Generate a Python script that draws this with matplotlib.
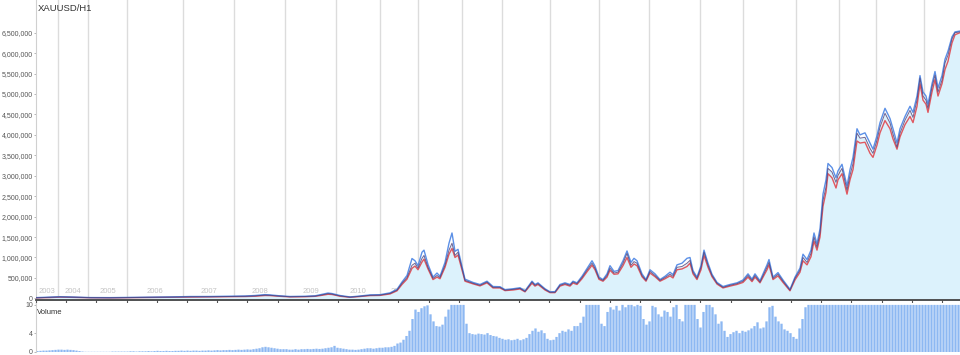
import matplotlib
matplotlib.use("Agg")
import matplotlib.pyplot as plt
import numpy as np

# year boundaries, in bar index (H1 bars, scaled)
years = ["2003", "2004", "2005", "2006", "2007", "2008", "2009", "2010", "2011", "2012",
         "2013", "2014", "2015", "2016", "2017", "2018", "2019", "2020", "2021", "2022", "2023"]
year_start = [0, 22, 52, 91, 147, 198, 249, 300, 344, 382, 426,
              466, 514, 563, 613, 664, 707, 760, 803, 840, 888]
last_bar = 924

bar_idx = [0, 14, 24, 34, 54, 74, 94, 114, 134, 154, 174, 194, 209, 219, 229, 234, 244, 254, 269, 279,
           286, 292, 296, 304, 314, 324, 334, 344, 354, 361, 366, 371, 376, 379, 382, 386, 388, 392, 397, 401,
           404, 409, 413, 416, 419, 422, 426, 429, 437, 444, 451, 457, 464, 469, 477, 484, 489, 496, 499, 502,
           509, 514, 519, 524, 529, 534, 537, 541, 546, 551, 556, 559, 563, 567, 571, 574, 578, 582, 587, 591,
           595, 598, 601, 606, 610, 614, 619, 624, 629, 634, 637, 641, 646, 651, 654, 657, 661, 665, 668, 672,
           676, 681, 687, 694, 701, 707, 712, 716, 719, 724, 731, 733, 737, 742, 747, 754, 759, 764, 767, 771,
           775, 778, 781, 784, 787, 790, 792, 796, 800, 802, 806, 811, 814, 817, 821, 824, 829, 834, 837, 841,
           844, 849, 854, 857, 861, 864, 869, 874, 877, 881, 884, 887, 890, 892, 896, 899, 902, 906, 909, 912,
           916, 919, 924]

# price in thousands
close_k = [15, 25, 35, 30, 18, 15, 20, 25, 30, 38, 40, 45, 50, 60, 80, 75, 55, 40, 45, 55,
           85, 115, 105, 60, 30, 50, 75, 80, 120, 200, 370, 510, 810, 860, 740, 980, 1050, 760, 490, 560,
           510, 810, 1180, 1350, 1050, 1130, 735, 440, 370, 320, 400, 270, 270, 200, 220, 245, 170, 400, 320, 360,
           220, 150, 150, 320, 360, 320, 400, 360, 510, 690, 860, 740, 490, 440, 560, 740, 620, 640, 860, 1100,
           810, 900, 860, 560, 440, 660, 560, 440, 510, 590, 540, 760, 780, 860, 930, 640, 490, 760, 1130, 810,
           560, 370, 270, 320, 360, 420, 560, 440, 560, 400, 760, 880, 490, 590, 420, 200, 490, 690, 1000, 880,
           1100, 1500, 1250, 1600, 2400, 2720, 3180, 3090, 2840, 3010, 3180, 2650, 3010, 3300, 4040, 3920, 3940, 3670, 3550, 3870,
           4190, 4530, 4290, 4020, 3700, 4040, 4360, 4600, 4430, 4850, 5390, 4950, 4850, 4650, 5170, 5460, 5050, 5340, 5760, 5950,
           6350, 6500, 6520]

high_k = [18, 30, 40, 35, 20, 18, 23, 30, 35, 45, 46, 52, 58, 70, 92, 85, 62, 46, 52, 62,
          100, 130, 118, 70, 35, 58, 85, 90, 135, 220, 400, 560, 975, 920, 800, 1130, 1180, 830, 520, 620,
          540, 880, 1350, 1600, 1150, 1200, 780, 470, 390, 340, 420, 290, 285, 215, 235, 260, 185, 420, 340, 380,
          235, 160, 165, 340, 380, 340, 420, 380, 540, 730, 920, 790, 520, 460, 600, 800, 660, 680, 920, 1160,
          880, 980, 920, 600, 460, 700, 600, 460, 540, 640, 580, 820, 860, 980, 1000, 680, 520, 800, 1180, 860,
          590, 390, 290, 340, 380, 450, 600, 470, 600, 430, 820, 950, 520, 630, 450, 220, 520, 740, 1080, 950,
          1180, 1600, 1330, 1700, 2550, 2900, 3300, 3200, 2950, 3120, 3280, 2750, 3150, 3450, 4150, 4000, 4050, 3800, 3650, 3980,
          4300, 4650, 4400, 4150, 3800, 4150, 4450, 4700, 4550, 4950, 5450, 5050, 4950, 4750, 5250, 5550, 5150, 5450, 5850, 6050,
          6400, 6520, 6540]

low_k = [12, 20, 30, 26, 15, 12, 17, 22, 26, 33, 35, 40, 45, 52, 70, 68, 50, 36, 40, 50,
         75, 100, 95, 52, 26, 45, 68, 72, 108, 185, 340, 470, 735, 790, 700, 890, 960, 720, 460, 520,
         480, 760, 1080, 1220, 1000, 1060, 700, 420, 355, 305, 380, 255, 255, 190, 205, 230, 160, 370, 300, 340,
         205, 140, 140, 300, 340, 300, 375, 340, 480, 650, 810, 700, 465, 420, 520, 690, 590, 600, 800, 1000,
         760, 840, 800, 530, 420, 620, 530, 420, 480, 550, 500, 700, 720, 780, 860, 600, 460, 700, 1050, 760,
         530, 350, 255, 300, 340, 390, 520, 410, 520, 380, 700, 820, 460, 550, 390, 185, 450, 640, 920, 820,
         1020, 1400, 1180, 1500, 2250, 2600, 3050, 2950, 2700, 2900, 3050, 2550, 2900, 3150, 3850, 3800, 3820, 3550, 3450, 3750,
         4050, 4350, 4150, 3900, 3650, 3950, 4250, 4450, 4300, 4700, 5250, 4850, 4750, 4550, 5050, 5350, 4950, 5250, 5600, 5800,
         6250, 6450, 6500]

# volume per bar group (capped at 10 in the chart)
volume = [0.2, 0.25, 0.3, 0.3, 0.35, 0.4, 0.45, 0.5, 0.5, 0.45, 0.5, 0.45, 0.4, 0.3, 0.2,
          0.1, 0.05, 0.05, 0.05, 0.05, 0.05, 0.05, 0.05, 0.05, 0.05, 0.1, 0.1, 0.1, 0.1, 0.1, 0.1, 0.15, 0.15, 0.1, 0.15,
          0.15, 0.15, 0.2, 0.15, 0.2, 0.25, 0.2, 0.2, 0.25, 0.2, 0.2, 0.25, 0.25, 0.3, 0.25, 0.3, 0.25, 0.3, 0.3, 0.25,
          0.3, 0.3, 0.35, 0.3, 0.35, 0.4, 0.35, 0.4, 0.4, 0.45, 0.4, 0.45, 0.5, 0.45, 0.5, 0.55, 0.5, 0.6, 0.7, 0.8,
          1.0, 1.1, 1.0, 0.9, 0.8, 0.7, 0.6, 0.6, 0.6, 0.5,
          0.5, 0.6, 0.5, 0.6, 0.6, 0.65, 0.6, 0.65, 0.7, 0.65, 0.7, 0.8, 0.9, 1.0, 1.3,
          0.9, 0.8, 0.7, 0.6, 0.5, 0.5, 0.45, 0.5, 0.6, 0.7, 0.8, 0.8, 0.7, 0.8, 0.9, 0.9, 1.0, 1.0, 1.1, 1.3,
          1.8, 2.0, 2.6, 3.4, 4.5, 7.0, 9.0, 8.5, 9.3, 9.7,
          9.9, 8.0, 6.5, 5.5, 5.4, 5.8, 7.5, 9.0, 10, 10,
          10, 10, 10, 6.0, 4.0, 3.8, 3.7, 3.9, 3.8, 3.7,
          4.0, 3.6, 3.4, 3.3, 3.0, 2.8, 2.6, 2.7, 2.5, 2.6,
          2.8, 2.5, 2.7, 3.0, 3.8, 4.5, 5.0, 4.3, 4.6, 4.0,
          2.8, 2.5, 2.6, 3.2, 4.0, 4.5, 4.3, 4.8, 4.5, 5.5,
          5.5, 6.2, 7.5, 10, 10, 10, 10, 10, 6.0, 5.5,
          8.5, 9.5, 9.0, 9.8, 8.8, 10, 9.5, 10, 10, 9.7,
          10, 9.8, 7.0, 5.8, 6.5, 9.8, 9.5, 8.0, 7.5, 8.8,
          8.5, 7.5, 9.5, 10, 7.0, 6.5, 10, 10, 10, 10,
          7.0, 5.2, 8.5, 10, 10, 9.5, 8.0, 6.0, 6.5, 4.5,
          3.2, 3.8, 4.2, 4.5, 4.0, 4.5, 4.3, 4.6, 5.0, 5.5,
          6.3, 5.0, 5.2, 6.5, 9.5, 9.8, 7.5, 6.5, 6.0, 4.8,
          4.5, 4.0, 3.2, 2.8, 5.0, 7.0, 9.5, 10, 10, 10,
          10, 10, 10, 10, 10, 10, 10, 10, 10, 10, 10, 10,
          10, 10, 10, 10, 10, 10, 10, 10, 10, 10, 10, 10,
          10, 10, 10, 10, 10, 10, 10, 10, 10, 10, 10, 10,
          10, 10, 10, 10, 10, 10, 10, 10, 10, 10, 10, 10]

plt.rcParams['font.family'] = ['Liberation Sans', 'DejaVu Sans']

fig = plt.figure(figsize=(9.6, 3.55), dpi=100)
ax = fig.add_axes([36 / 960, 55 / 355, 924 / 960, 300 / 355])
axv = fig.add_axes([36 / 960, 3 / 355, 924 / 960, 49 / 355])

x = np.array(bar_idx)
close = np.array(close_k) * 1000
high = np.array(high_k) * 1000
low = np.array(low_k) * 1000

# year separators + labels
for ys in year_start[1:]:
    ax.axvline(ys, color='#dcdcdc', lw=1, zorder=0)
bounds = year_start + [last_bar]
for i, yr in enumerate(years):
    ax.text((bounds[i] + bounds[i + 1]) / 2, 0.027, yr, transform=ax.get_xaxis_transform(),
            ha='center', va='center', fontsize=5.5, color='#c4c4c4', zorder=1)

ax.fill_between(x, -100000, close, color='#dcf2fc', lw=0, zorder=1)
ax.plot(x, low, color='#e0474f', lw=1.0, alpha=0.9, zorder=3)
ax.plot(x, high, color='#4a84e4', lw=1.0, alpha=0.9, zorder=4)
ax.plot(x, close, color='#4d3f78', lw=0.7, alpha=0.8, zorder=5)

ax.set_xlim(0, last_bar)
ax.set_ylim(-40000, 7300000)
ax.set_yticks(np.arange(0, 6500001, 500000))
ax.yaxis.set_major_formatter(plt.FuncFormatter(lambda v, p: f"{int(v):,}"))
ax.set_xticks(np.arange(0, last_bar, 30.2))
ax.tick_params(axis='x', labelbottom=False, length=3, width=0.8, color='#555555')
ax.tick_params(axis='y', labelsize=5.0, labelcolor='#555555', length=1.5, width=0.6, color='#aaaaaa', pad=0.8)
for s in ['top', 'right']:
    ax.spines[s].set_visible(False)
ax.spines['left'].set_color('#d0d0d0')
ax.spines['bottom'].set_color('#444444')
ax.spines['bottom'].set_linewidth(1.3)
ax.text(2, 0.973, "XAUUSD/H1", transform=ax.get_xaxis_transform(), ha='left', va='center',
        fontsize=6.8, color='#333333')

# volume panel
vx = np.arange(len(volume)) * 3 + 1.5
axv.bar(vx, volume, width=2.3, color='#8db8f2', lw=0, snap=False)
axv.set_xlim(0, last_bar)
axv.set_ylim(0, 10.4)
axv.set_yticks([0, 4, 10])
axv.set_xticks([])
axv.tick_params(axis='y', labelsize=5.0, labelcolor='#555555', length=1.5, width=0.6, color='#aaaaaa', pad=0.8)
for s in ['top', 'right', 'bottom']:
    axv.spines[s].set_visible(False)
axv.spines['left'].set_color('#d0d0d0')
axv.text(1, 0.8, "Volume", transform=axv.get_xaxis_transform(), ha='left', va='center',
         fontsize=5.5, color='#333333')

fig.savefig("out.png", dpi=100)
